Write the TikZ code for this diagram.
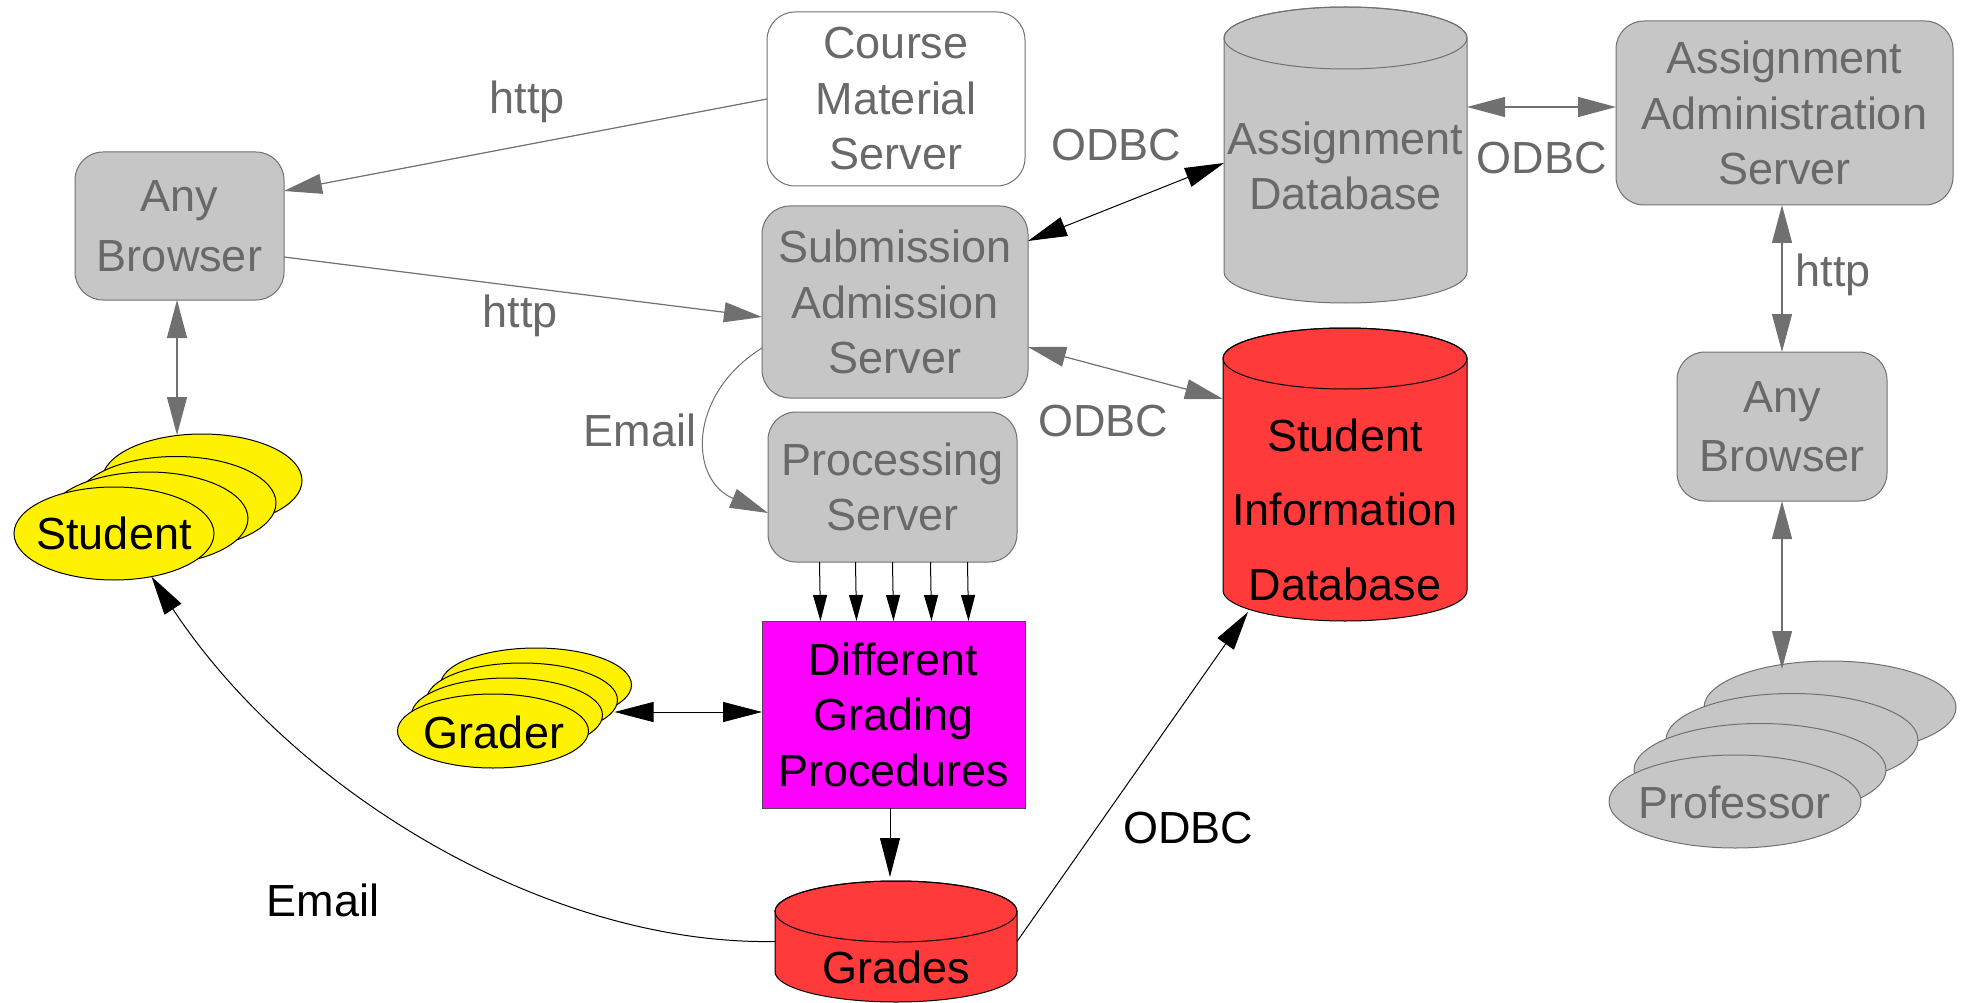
\documentclass[tikz,border=0pt]{standalone}
\usepackage{fontspec}
\setmainfont{Liberation Sans}
\usetikzlibrary{arrows.meta,calc,shapes.geometric}
\definecolor{boxgray}{RGB}{198,198,198}
\definecolor{txtgray}{RGB}{105,105,105}
\definecolor{linegray}{RGB}{112,112,112}
\definecolor{dbred}{RGB}{255,58,58}
\definecolor{magen}{RGB}{255,0,255}
\newcommand{\drawcyl}[7]{%
  \path[fill=#6,draw=#7,line width=1pt] (#1-#4,-#2-#5) -- (#1-#4,-#3+#5)
    arc[start angle=180,end angle=360,x radius=#4,y radius=#5] -- (#1+#4,-#2-#5)
    arc[start angle=0,end angle=180,x radius=#4,y radius=#5] -- cycle;
  \draw[draw=#7,line width=1pt] (#1,-#2-#5) ellipse[x radius=#4,y radius=#5];
}
\begin{document}
\begin{tikzpicture}[x=1pt,y=1pt,
  every node/.style={font=\fontsize{45}{55.5}\selectfont, inner sep=0pt, outer sep=0pt, align=center},
  gbox/.style={draw=linegray, fill=boxgray, rounded corners=28pt, text=txtgray, line width=1pt},
  wbox/.style={gbox, fill=white},
  gtxt/.style={text=txtgray},
  area/.style={draw=none, minimum width=#1},
  gell/.style={ellipse, draw=linegray, fill=boxgray, line width=1pt, minimum width=252pt, minimum height=93pt},
  stuell/.style={ellipse, draw=black, fill=yellow, line width=1pt, minimum width=200pt, minimum height=93pt},
  grell/.style={ellipse, draw=black, fill=yellow, line width=1pt, minimum width=191pt, minimum height=74pt},
  garr/.style={draw=linegray, line width=1.2pt, {Triangle[length=38pt,width=20pt]}-{Triangle[length=38pt,width=20pt]}},
  gone/.style={draw=linegray, line width=1.2pt, -{Triangle[length=38pt,width=20pt]}},
  barr/.style={draw=black, line width=1pt, {Triangle[length=39pt,width=20pt]}-{Triangle[length=39pt,width=20pt]}},
  bone/.style={draw=black, line width=1pt, -{Triangle[length=39pt,width=20pt]}},
  bsmall/.style={draw=black, line width=1pt, -{Triangle[length=26pt,width=14pt]}}
]
\useasboundingbox (0,0) rectangle (1966,-1003);

% ---------- boxes ----------
\node[gbox, minimum width=209pt, minimum height=148pt, font=\fontsize{45}{60}\selectfont] (ab1) at (179.5,-226) {Any\\Browser};
\node[wbox, minimum width=258pt, minimum height=174pt] (cms) at (896,-99) {Course\\Material\\Server};
\node[gbox, minimum width=266pt, minimum height=192pt] (sub) at (895,-302) {Submission\\Admission\\Server};
\node[gbox, minimum width=249pt, minimum height=150pt] (proc) at (892.5,-487) {Processing\\Server};
\node[draw=black!70, fill=magen, line width=1pt, minimum width=263pt, minimum height=187pt] (grd) at (893.5,-714.5) {Different\\Grading\\Procedures};
\node[gbox, minimum width=337pt, minimum height=184pt] (aas) at (1784.5,-113) {Assignment\\Administration\\Server};
\node[gbox, minimum width=210pt, minimum height=149pt, font=\fontsize{45}{59}\selectfont] (ab2) at (1782,-426.5) {Any\\Browser};

% ---------- cylinders ----------
\drawcyl{1345.5}{7}{303}{121.5}{31}{boxgray}{linegray}
\drawcyl{1345}{328}{621}{122}{30.5}{dbred}{black}
\drawcyl{896}{881}{1002}{121}{30.5}{dbred}{black}
\node[area=243pt, minimum height=296pt] (adb) at (1345.5,-155) {};
\node[area=244pt, minimum height=293pt] (sidb) at (1345,-474.5) {};
\node[area=242pt, minimum height=121pt] (grades) at (896,-941.5) {};
\node[gtxt] (adbT) at (1345.5,-166) {Assignment\\Database};
\node[font=\fontsize{45}{74.5}\selectfont] (sidbT) at (1345,-509.5) {Student\\Information\\Database};
\node (gradesT) at (896,-967) {Grades};

% ---------- actors ----------
\node[stuell] (stu4) at (202,-480.5) {};
\node[stuell] (stu3) at (176,-503) {};
\node[stuell] (stu2) at (148,-518.5) {};
\node[stuell] (stu1) at (114,-533.5) {};
\node (stuT) at (114,-533) {Student};

\node[grell] (gr4) at (536,-685) {};
\node[grell] (gr3) at (522,-700) {};
\node[grell] (gr2) at (507,-715) {};
\node[grell] (gr1) at (493,-731) {};
\node (grT) at (494,-732) {Grader};

\node[gell] (prof4) at (1830,-707.5) {};
\node[gell] (prof3) at (1792,-740) {};
\node[gell] (prof2) at (1760,-770) {};
\node[gell] (prof1) at (1735,-801.5) {};
\node[gtxt] (profT) at (1734.5,-802) {Professor};

% ---------- labels ----------
\node[gtxt] (l1) at (527,-102) {http};
\node[gtxt] (l2) at (520,-316) {http};
\node[gtxt] (l3) at (1116,-145) {ODBC};
\node[gtxt] (l4) at (1103,-421) {ODBC};
\node[gtxt] (l5) at (1541.5,-158) {ODBC};
\node[gtxt] (l6) at (1833,-275) {http};
\node[gtxt] (l7) at (640,-430) {Email};
\node (l8) at (323,-900) {Email};
\node (l9) at (1188,-828) {ODBC};

% ---------- connectors ----------
\draw[gone] (cms.west) -- ([yshift=35pt]ab1.east);
\draw[gone] ([yshift=-31pt]ab1.east) -- ([yshift=-15pt]sub.west);
\draw[garr] ([xshift=-2.5pt]ab1.south) -- ($(ab1.south |- stu4.north)+(-2.5,-1)$);
\draw[barr] ([yshift=61pt]sub.east) -- ([yshift=-8pt]adb.west);
\draw[garr] ([yshift=-45pt]sub.east) -- ([yshift=75.5pt]sidb.west);
\draw[garr] ([yshift=48pt]adb.east) -- ([yshift=6pt]aas.west);
\draw[garr] (ab2.north) -- (ab2.north |- aas.south);
\draw[garr] (ab2.south) -- ($(ab2.south |- prof4.north)+(0,-8)$);
\draw[draw=linegray, line width=1pt, -{Triangle[length=38pt,width=20pt]}] ([yshift=-46pt]sub.west)
   .. controls +(-75,-47) and +(-79,33) .. ([yshift=-26pt]proc.west);
\foreach \d in {-73,-37,0,38,75}
  \draw[bsmall] ([xshift=\d pt]proc.south) -- ([xshift=\d pt]grd.north);
\draw[barr] ([yshift=2.5pt]grd.west) -- ($(gr3.east |- grd.west)+(-3,2.5)$);
\draw[bone] ([xshift=-3.5pt]grd.south) -- ($(grd.south |- grades.north)+(-3.5,4)$);
\draw[bone] (grades.east) -- ([xshift=25pt,yshift=9pt]sidb.south west);
\draw[bone] (grades.west) .. controls +(-225,-4) and +(144,-218) .. (stu1.-49);
\end{tikzpicture}
\end{document}
